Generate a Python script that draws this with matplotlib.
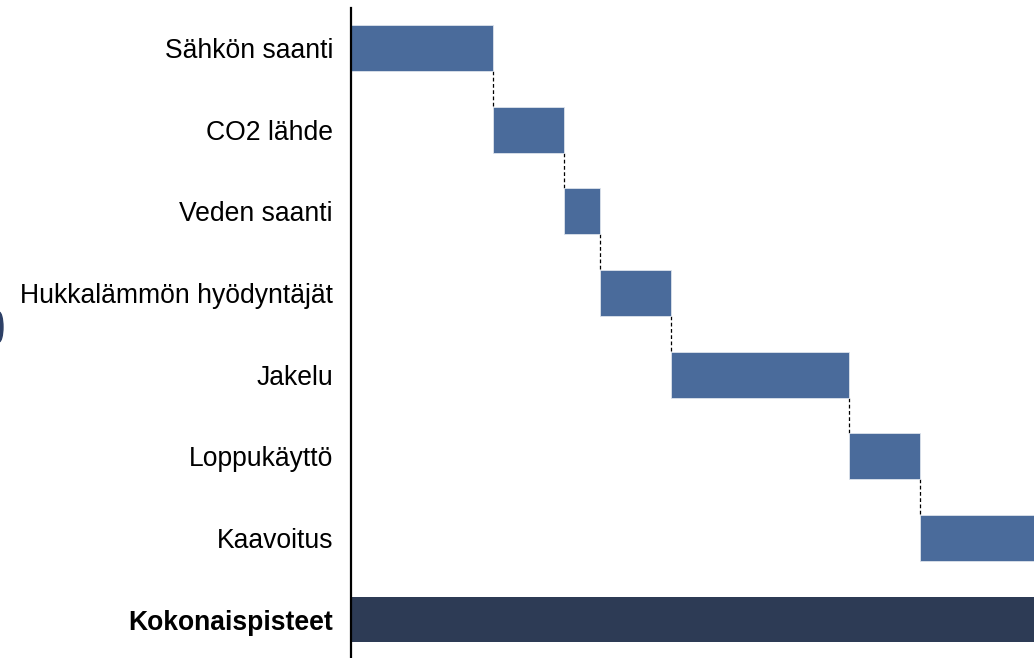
import matplotlib
matplotlib.use("Agg")
import matplotlib.pyplot as plt
from matplotlib.patches import Ellipse
import numpy as np

plt.rcParams["font.family"] = ["Liberation Sans", "DejaVu Sans"]

# data
categories = ["Sähkön saanti", "CO2 lähde", "Veden saanti", "Hukkalämmön hyödyntäjät",
              "Jakelu", "Loppukäyttö", "Kaavoitus"]
scores = [20, 10, 5, 10, 25, 10, 16]
total_label = "Kokonaispisteet"
total_score = sum(scores)

STEP_COLOR = "#4a6b9b"
TOTAL_COLOR = "#2d3b55"

fig = plt.figure(figsize=(10.34, 6.58), dpi=100)
ax = fig.add_axes([351 / 1034, 0.0, 1 - 351 / 1034, 1 - 8 / 658])

starts = np.concatenate([[0], np.cumsum(scores)[:-1]])
ends = starts + np.array(scores)
ypos = np.arange(len(categories))
bar_h = 0.56

ax.barh(ypos, scores, left=starts, height=bar_h, color=STEP_COLOR,
        edgecolor="#dde3ec", linewidth=0.6, zorder=2)
ax.barh(len(categories), total_score, left=0, height=bar_h, color=TOTAL_COLOR,
        linewidth=0, zorder=2)

# dashed connectors between consecutive steps
for i in range(len(categories) - 1):
    ax.plot([ends[i], ends[i]], [ypos[i] + bar_h / 2, ypos[i + 1] - bar_h / 2],
            color="black", lw=0.9, ls=(0, (3, 2)), zorder=1)

labels = categories + [total_label]
ax.set_yticks(np.arange(len(labels)))
ax.set_yticklabels(labels, fontsize=19.1)
ax.get_yticklabels()[-1].set_fontweight("bold")
ax.tick_params(axis="y", length=0, pad=13)
ax.set_xticks([])

ax.set_ylim(len(labels) - 0.53, -0.49)
ax.set_xlim(0, total_score)

for side in ("top", "right", "bottom"):
    ax.spines[side].set_visible(False)
ax.spines["left"].set_linewidth(1.6)
ax.spines["left"].set_color("black")

# small decorative shape cut off at left edge
fig.add_artist(Ellipse((-0.001, 1 - 327 / 658), 8 / 1034, 30 / 658,
                       transform=fig.transFigure, color="#2d4066"))

fig.savefig("out.png", dpi=100)
